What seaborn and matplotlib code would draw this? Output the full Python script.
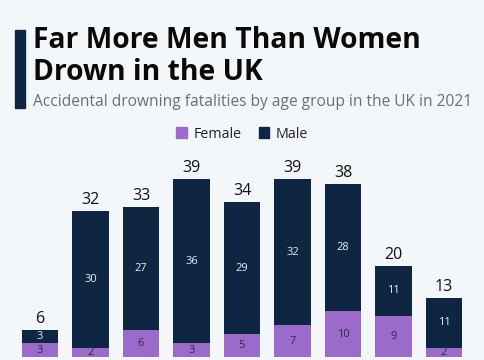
import pandas as pd
import matplotlib
matplotlib.use("Agg")
import matplotlib.pyplot as plt
import seaborn as sns
from matplotlib.patches import Rectangle

age_groups = ["0-9", "10-19", "20-29", "30-39", "40-49", "50-59", "60-69", "70-79", "80+"]
female = [3, 2, 6, 3, 5, 7, 10, 9, 2]
male = [3, 30, 27, 36, 29, 32, 28, 11, 11]

NAVY = "#0f2642"
PURPLE = "#9a6bcb"
BG = "#f4f7fa"

df = pd.DataFrame({"Age": age_groups, "Female": female, "Male": male})
df["Total"] = df["Female"] + df["Male"]

sns.set_theme(style="white")
plt.rcParams["font.family"] = ["Open Sans", "DejaVu Sans"]

fig = plt.figure(figsize=(4.85, 3.6), dpi=100)
fig.patch.set_facecolor(BG)
ax = fig.add_axes([0, 3 / 360, 1, 207 / 360])
ax.set_facecolor(BG)

sns.barplot(data=df, x="Age", y="Total", color=NAVY, width=0.72, saturation=1,
            linewidth=0, ax=ax)
sns.barplot(data=df, x="Age", y="Female", color=PURPLE, width=0.72, saturation=1,
            linewidth=0, ax=ax)

ax.set_xlim(-40 / 50.5, (485 - 40) / 50.5)
ax.set_ylim(0, 45.4)
ax.axis("off")

for i, row in df.iterrows():
    ax.text(i, row["Total"] + 0.6, str(row["Total"]), ha="center", va="bottom",
            fontsize=11.5, color="#111111")
    ax.text(i, row["Female"] / 2, str(row["Female"]), ha="center", va="center",
            fontsize=8, color="#2a2f45")
    ax.text(i, row["Female"] + row["Male"] / 2, str(row["Male"]), ha="center", va="center",
            fontsize=8, color="#e8ecf2")

# title block
fig.add_artist(Rectangle((15 / 485, 1 - 108 / 360), 10 / 485, 78 / 360,
                         transform=fig.transFigure, color=NAVY))
fig.text(33 / 485, 1 - 41 / 360, "Far More Men Than Women", fontsize=20.3,
         fontweight="bold", color="#0a0a0a", va="center", ha="left")
fig.text(33 / 485, 1 - 72 / 360, "Drown in the UK", fontsize=20.3,
         fontweight="bold", color="#0a0a0a", va="center", ha="left")
fig.text(33 / 485, 1 - 102 / 360, "Accidental drowning fatalities by age group in the UK in 2021",
         fontsize=11.2, color="#6b6e75", va="center", ha="left")

# legend
handles = [Rectangle((0, 0), 1, 1, color=PURPLE), Rectangle((0, 0), 1, 1, color=NAVY)]
fig.legend(handles, ["Female", "Male"], loc="center", bbox_to_anchor=(0.5, 1 - 134 / 360),
           ncol=2, frameon=False, fontsize=10.3, handlelength=0.7, handleheight=0.7,
           handletextpad=0.5, columnspacing=1.2, labelcolor="#222222")

fig.savefig("out.png", dpi=100, facecolor=BG)
